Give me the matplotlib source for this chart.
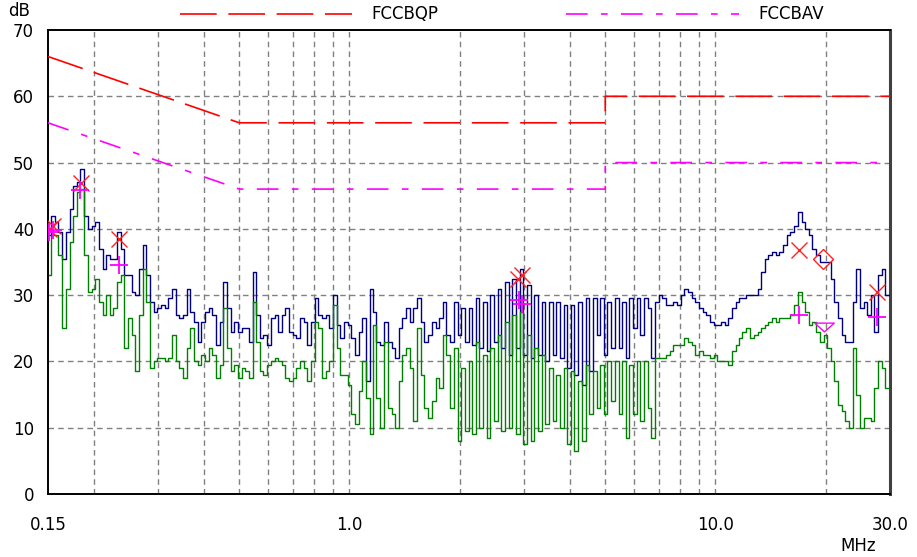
import matplotlib
matplotlib.use("Agg")
import matplotlib.pyplot as plt
from matplotlib.lines import Line2D

plt.rcParams['font.family'] = ['DejaVu Sans']

# sweep frequencies (MHz)
freq = [
    0.151, 0.155, 0.158, 0.162, 0.166, 0.170, 0.174, 0.178, 0.182, 0.186,
    0.191, 0.195, 0.200, 0.204, 0.209, 0.214, 0.219, 0.224, 0.229, 0.234,
    0.240, 0.245, 0.251, 0.257, 0.263, 0.269, 0.275, 0.282, 0.288, 0.295,
    0.302, 0.309, 0.316, 0.324, 0.331, 0.339, 0.347, 0.355, 0.363, 0.372,
    0.380, 0.389, 0.398, 0.407, 0.417, 0.427, 0.437, 0.447, 0.457, 0.468,
    0.479, 0.490, 0.501, 0.513, 0.525, 0.537, 0.550, 0.562, 0.575, 0.589,
    0.603, 0.617, 0.631, 0.646, 0.661, 0.676, 0.692, 0.708, 0.724, 0.741,
    0.759, 0.776, 0.794, 0.813, 0.832, 0.851, 0.871, 0.891, 0.912, 0.933,
    0.955, 0.977,
    1.00, 1.02, 1.05, 1.07, 1.10, 1.12, 1.15, 1.17, 1.20, 1.23,
    1.26, 1.29, 1.32, 1.35, 1.38, 1.41, 1.45, 1.48, 1.51, 1.55,
    1.58, 1.62, 1.66, 1.70, 1.74, 1.78, 1.82, 1.86, 1.91, 1.95,
    2.00, 2.04, 2.09, 2.14, 2.19, 2.24, 2.29, 2.34, 2.40, 2.45,
    2.51, 2.57, 2.63, 2.69, 2.75, 2.82, 2.88, 2.95, 3.02, 3.09,
    3.16, 3.24, 3.31, 3.39, 3.47, 3.55, 3.63, 3.72, 3.80, 3.89,
    3.98, 4.07, 4.17, 4.27, 4.37, 4.47, 4.57, 4.68, 4.79, 4.90,
    5.01, 5.13, 5.25, 5.37, 5.50, 5.62, 5.75, 5.89, 6.03, 6.17,
    6.31, 6.46, 6.61, 6.76, 6.92, 7.08, 7.24, 7.41, 7.59, 7.76,
    7.94, 8.13, 8.32, 8.51, 8.71, 8.91, 9.12, 9.33, 9.55, 9.77,
    10.0, 10.2, 10.5, 10.7, 11.0, 11.2, 11.5, 11.7, 12.0, 12.3,
    12.6, 12.9, 13.2, 13.5, 13.8, 14.1, 14.5, 14.8, 15.1, 15.5,
    15.8, 16.2, 16.6, 17.0, 17.4, 17.8, 18.2, 18.6, 19.1, 19.5,
    20.0, 20.4, 20.9, 21.4, 21.9, 22.4, 22.9, 23.4, 24.0, 24.5,
    25.1, 25.7, 26.3, 26.9, 27.5, 28.2, 28.8, 29.5, 30.0,
]

# peak scan (blue), dB
peak = [
    39, 42, 41, 39.5, 35.5, 39.5, 43, 46.5, 47, 49,
    42, 40, 40.5, 41, 37, 34, 36, 35.5, 35.5, 39.5,
    37, 33, 33, 30.5, 30, 34, 37.5, 33, 29, 27.5,
    28, 28.5, 28, 29.5, 31, 27, 26.5, 27, 31, 27.5,
    26, 23, 26, 27.5, 28, 27, 22.5, 26, 32, 28,
    24.5, 26, 24.5, 25, 25, 23, 33.5, 27, 23.5, 24,
    22.5, 26.5, 27, 24.5, 27, 28, 24.5, 24, 23.5, 26.5,
    26, 22.5, 26, 29.5, 27, 26.5, 27, 25, 30, 25.5,
    23.5, 26, 25.5, 23.5, 21, 24.5, 26.5, 17, 31, 27.5,
    23, 22.5, 26, 23, 22, 20.5, 25, 26.5, 28, 26,
    28, 29.5, 26, 23, 24, 26, 25, 26.5, 29, 24,
    23, 29, 24, 28, 23, 28, 22.5, 29.5, 22, 29,
    21.5, 30, 23, 31, 22, 32, 21, 32.5, 22, 34,
    21, 31.5, 20.5, 30, 21, 29, 20, 29, 21, 29,
    20.5, 28.5, 19, 28.5, 18, 29, 16.5, 29.5, 18.5, 29.5,
    24, 29.5, 21, 29, 22, 29.5, 22, 29, 20.5, 29.5,
    25, 29.5, 24, 29.5, 28, 20.5, 29, 30, 29.5, 28.5,
    28.5, 29, 28.5, 30, 31, 30.5, 29.5, 29, 28, 27.5,
    27, 26, 25.5, 25.5, 26, 25.5, 26.5, 28, 29, 29.5,
    29.5, 30, 30, 30, 31, 33.5, 35.5, 36, 36.5, 36,
    36.5, 37.5, 39, 39.5, 40.5, 42.5, 41, 40, 39, 37,
    36, 35, 35, 35, 32.5, 29, 26.5, 24, 23, 23,
    29, 34, 28, 29, 27, 30, 24.5, 33, 34, 30, 30,
]

# average scan (green), dB
average = [
    33, 39, 39, 36, 25, 31, 38, 42, 45.5, 46,
    36, 30.5, 31, 32.5, 29, 27, 30, 27, 28, 32,
    33, 22, 26.5, 24, 18.5, 27, 34, 29, 19, 20,
    20.5, 20.5, 20, 20.5, 24, 20, 19, 17.5, 22, 25,
    20, 19.5, 21, 20, 22, 21, 17.5, 19.5, 28, 22,
    18.5, 19.5, 17.5, 19, 18.5, 17.5, 29, 23, 18.5, 18,
    19.5, 20, 20.5, 20, 19.5, 17.5, 17, 17.5, 19, 20,
    19, 17, 20, 26, 25, 17.5, 18.5, 20, 28.5, 22,
    18, 18, 16.5, 12, 10.5, 15.5, 20, 14.5, 9, 25.5,
    14.5, 10, 23, 13, 12, 10, 17, 21, 22, 19,
    11, 25, 18, 13, 11.5, 14, 17.5, 16, 24, 21,
    13, 22, 8, 19, 9.5, 20, 9, 23, 10, 21,
    8.5, 22, 11, 24, 9.5, 26, 10, 27, 9, 27.5,
    7.5, 24, 8, 22, 9.5, 21, 10.5, 19, 11, 18,
    10, 19, 7.5, 18.5, 6.5, 17, 8, 19.5, 12, 18.5,
    13, 19.5, 12, 20, 14, 20, 12, 20, 8.5, 19.5,
    12, 20, 11, 20, 13, 8.5, 20.5, 20.5, 20.5, 21,
    21.5, 22.5, 22.5, 22.5, 23.5, 23, 22.5, 21, 21.5, 21,
    21, 20.5, 21, 20, 20, 20, 19.5, 21.5, 22.5, 23.5,
    24.5, 25, 23.5, 24, 24.5, 25, 25.5, 26, 26.5, 26,
    26.5, 26.5, 26.5, 27, 28.5, 30.5, 29, 27.5, 25.5, 26,
    24.5, 23, 24, 22, 20, 17, 13.5, 12.5, 11, 10,
    22, 15, 10, 11.5, 11.5, 11, 16, 20, 19, 16, 16,
]

# limit lines
lim_freq = [0.15, 0.5, 5.0, 5.0, 30.0]
lim_qp = [66, 56, 56, 60, 60]
lim_av = [56, 46, 46, 50, 50]

# final measurement markers
qp_freq = [0.151, 0.155, 0.185, 0.234, 2.88, 2.96, 16.9, 27.6]
qp_level = [40.0, 40.5, 46.9, 38.4, 32.5, 33.0, 36.8, 30.5]
qp_fail_freq = [19.7]
qp_fail_level = [35.4]
av_freq = [0.151, 0.155, 0.184, 0.235, 2.90, 2.97, 16.9, 27.6]
av_level = [39.5, 39.8, 45.9, 34.6, 29.2, 28.6, 27.0, 26.7]
av_low_freq = [19.8]
av_low_level = [25.2]

grid_freq = [0.2, 0.3, 0.4, 0.5, 0.6, 0.7, 0.8, 0.9, 1, 2, 3, 4, 5, 6, 7, 8, 9, 10, 20]
grid_db = [10, 20, 30, 40, 50, 60]
xtick_vals = [0.15, 1.0, 10.0, 30.0]
xtick_text = ['0.15', '1.0', '10.0', '30.0']
ytick_vals = [0, 10, 20, 30, 40, 50, 60, 70]

QP_DASH = (22, 7)
AV_DASH = (13, 8, 4, 8)

fig = plt.figure(figsize=(9.17, 5.57), dpi=100)
ax = fig.add_axes([48 / 917, 1 - 494 / 557, 842 / 917, 464 / 557])
ax.set_xscale('log')
ax.set_xlim(0.15, 30)
ax.set_ylim(0, 70)

grid_kw = dict(color='#808080', lw=1.0, ls=(0, (4, 3)), zorder=1)
for g in grid_freq:
    ax.axvline(g, **grid_kw)
for g in grid_db:
    ax.axhline(g, **grid_kw)

ax.plot(lim_freq, lim_qp, color='#ff0000', lw=1.2, dashes=QP_DASH, zorder=3)
ax.plot(lim_freq, lim_av, color='#ff00ff', lw=1.2, dashes=AV_DASH, zorder=3)

ax.plot(freq, peak, color='#000080', lw=1.0, drawstyle='steps-mid', zorder=4)
ax.plot(freq, average, color='#008000', lw=1.0, drawstyle='steps-mid', zorder=5)

ax.plot(qp_freq, qp_level, ls='none', marker='x', ms=12, mew=1.0, color='#ff2020', zorder=6)
ax.plot(qp_fail_freq, qp_fail_level, ls='none', marker='D', ms=10, mew=1.0,
        mfc='none', mec='#ff2020', zorder=6)
ax.plot(av_freq, av_level, ls='none', marker='+', ms=13, mew=1.3, color='#ff00ff', zorder=6)
ax.plot(av_low_freq, av_low_level, ls='none', marker=[(-1, 0.45), (1, 0.45), (0, -0.45), (-1, 0.45)],
        ms=14, mew=1.0, mfc='none', mec='#ff00ff', zorder=6)

ax.set_xticks(xtick_vals)
ax.set_xticklabels(xtick_text)
ax.xaxis.set_minor_locator(matplotlib.ticker.NullLocator())
ax.set_yticks(ytick_vals)
ax.tick_params(axis='both', length=0, labelsize=12)
ax.tick_params(axis='x', pad=16)
ax.tick_params(axis='y', pad=10)

for s in ax.spines.values():
    s.set_color('black')
    s.set_linewidth(1.4)
ax.spines['right'].set_color('#404040')
ax.spines['right'].set_linewidth(2.2)

# legend drawn above the frame
ly = 1 - 14 / 557
fig.add_artist(Line2D([180 / 917, 352 / 917], [ly, ly], color='#ff0000', lw=1.2, dashes=QP_DASH))
fig.add_artist(Line2D([566 / 917, 739 / 917], [ly, ly], color='#ff00ff', lw=1.2, dashes=AV_DASH))
fig.text(371 / 917, ly, 'FCCBQP', fontsize=12, va='center', ha='left')
fig.text(758 / 917, ly, 'FCCBAV', fontsize=12, va='center', ha='left')
fig.text(8 / 917, 1 - 11 / 557, 'dB', fontsize=12, va='center', ha='left')
fig.text(840 / 917, 1 - 546 / 557, 'MHz', fontsize=12, va='center', ha='left')

fig.savefig('out.png', dpi=100)
